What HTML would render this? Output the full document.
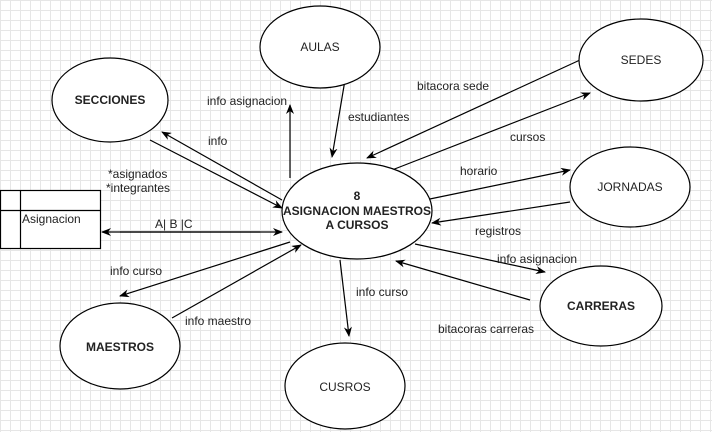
<!DOCTYPE html>
<html><head><style>
body{margin:0;width:712px;height:432px;overflow:hidden;background:#fff;
background-image:linear-gradient(#e6e6e6 1px,transparent 1px),linear-gradient(90deg,#e6e6e6 1px,transparent 1px);background-size:10px 10px;}
svg{position:absolute;left:0;top:0}
text{font-family:"Liberation Sans",sans-serif;font-size:12px;fill:#222}
</style></head><body>
<svg width="712" height="432">
<defs><marker id="a" markerWidth="10" markerHeight="8" refX="9" refY="4" orient="auto" markerUnits="userSpaceOnUse"><path d="M0,0 L10,4 L0,8 L3,4z" fill="#000"/></marker></defs>
<g stroke="#000" stroke-width="1.2" fill="none" marker-end="url(#a)">
<line x1="290" y1="178" x2="290" y2="105"/>
<line x1="345" y1="80" x2="332" y2="157"/>
<line x1="282" y1="200" x2="162" y2="132"/>
<line x1="150" y1="140" x2="282" y2="208"/>
<line x1="580" y1="60" x2="367" y2="158"/>
<line x1="392" y1="170" x2="590" y2="93"/>
<line x1="425" y1="200" x2="570" y2="170"/>
<line x1="570" y1="202" x2="432" y2="223"/>
<line x1="415" y1="244" x2="545" y2="272"/>
<line x1="530" y1="300" x2="396" y2="261"/>
<line x1="340" y1="260" x2="349" y2="336"/>
<line x1="290" y1="242" x2="120" y2="296"/>
<line x1="172" y1="318" x2="301" y2="245"/>
<line x1="120" y1="232" x2="282" y2="232"/>
<line x1="260" y1="232" x2="102" y2="232"/>
</g>
<g stroke="#000" stroke-width="1.2" fill="#fff">
<ellipse cx="320" cy="47" rx="60" ry="41"/>
<ellipse cx="641" cy="60" rx="62" ry="41"/>
<ellipse cx="110" cy="100" rx="58" ry="42"/>
<ellipse cx="357" cy="211" rx="75" ry="48"/>
<ellipse cx="630" cy="187" rx="60" ry="40"/>
<ellipse cx="601" cy="306" rx="61" ry="40"/>
<ellipse cx="120" cy="346" rx="60" ry="43"/>
<ellipse cx="345" cy="386" rx="60" ry="43"/>
<rect x="0.5" y="190.5" width="100" height="58"/>
<line x1="20.5" y1="190" x2="20.5" y2="248"/>
<line x1="0" y1="210.5" x2="100" y2="210.5"/>
</g>
<text x="320" y="51" text-anchor="middle">AULAS</text>
<text x="641" y="64" text-anchor="middle">SEDES</text>
<text x="110" y="104" text-anchor="middle" font-weight="bold">SECCIONES</text>
<text x="357" y="200" text-anchor="middle" font-weight="bold">8</text>
<text x="357" y="215" text-anchor="middle" font-weight="bold">ASIGNACION MAESTROS</text>
<text x="357" y="229" text-anchor="middle" font-weight="bold">A CURSOS</text>
<text x="630" y="191" text-anchor="middle">JORNADAS</text>
<text x="601" y="310" text-anchor="middle" font-weight="bold">CARRERAS</text>
<text x="120" y="351" text-anchor="middle" font-weight="bold">MAESTROS</text>
<text x="345" y="391" text-anchor="middle">CUSROS</text>
<text x="22" y="223">Asignacion</text>
<text x="207" y="105">info asignacion</text>
<text x="208" y="145">info</text>
<text x="348" y="121">estudiantes</text>
<text x="417" y="90">bitacora sede</text>
<text x="510" y="141">cursos</text>
<text x="460" y="175">horario</text>
<text x="475" y="235">registros</text>
<text x="108" y="178">*asignados</text>
<text x="106" y="192">*integrantes</text>
<text x="155" y="228">A| B |C</text>
<text x="497" y="263">info asignacion</text>
<text x="110" y="275">info curso</text>
<text x="356" y="296">info curso</text>
<text x="185" y="325">info maestro</text>
<text x="438" y="333">bitacoras carreras</text>
</svg>
</body></html>
